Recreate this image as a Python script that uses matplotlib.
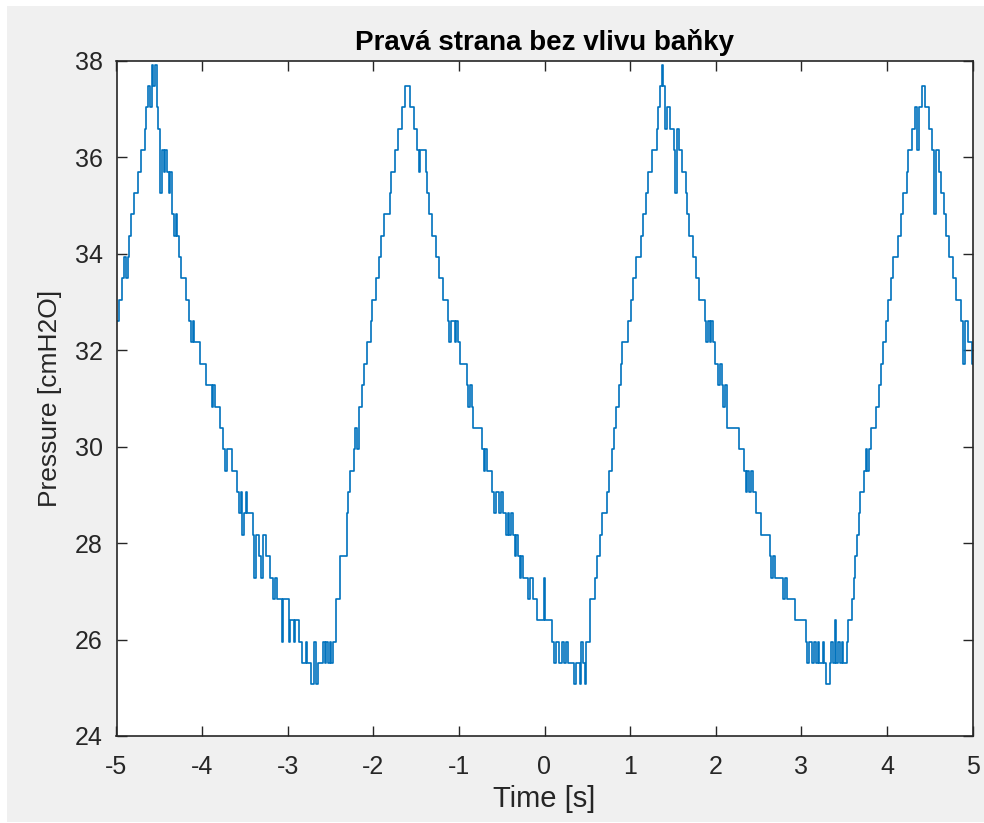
import numpy as np
import matplotlib
matplotlib.use("Agg")
import matplotlib.pyplot as plt
from matplotlib.patches import Rectangle

# sensor output in ADC steps, sampled every 20 ms from t = -5 s
t_start = -5.0
dt = 0.02
p_zero = 25.07      # cmH2O at step 0
p_step = 0.443      # cmH2O per ADC step

adc_counts = [
    17, 17, 18, 18, 19, 20, 19, 20, 21, 22, 22, 23, 23, 24, 24, 25, 25, 26, 27, 28, 27, 29, 28, 29, 27,
    26, 23, 25, 24, 25, 24, 23, 24, 22, 21, 22, 21, 20, 19, 19, 19, 18, 18, 17, 16, 17, 16, 16, 16, 15,
    15, 15, 15, 14, 14, 14, 13, 14, 13, 13, 13, 12, 12, 11, 10, 11, 11, 11, 10, 10, 10, 9, 8, 9, 7,
    8, 9, 8, 8, 8, 7, 5, 7, 7, 6, 5, 7, 7, 6, 6, 5, 5, 4, 5, 4, 4, 4, 2, 4, 4,
    4, 2, 3, 3, 2, 3, 3, 2, 2, 1, 1, 2, 1, 1, 0, 0, 2, 0, 1, 1, 1, 2, 1, 2, 1,
    2, 1, 2, 2, 4, 4, 6, 6, 6, 6, 8, 9, 10, 10, 11, 12, 11, 13, 13, 14, 15, 15, 16, 16, 17,
    18, 18, 19, 19, 20, 21, 21, 22, 22, 22, 23, 24, 24, 25, 25, 26, 26, 27, 27, 28, 28, 28, 27, 27, 26,
    26, 25, 24, 25, 25, 25, 24, 23, 22, 22, 21, 21, 20, 20, 19, 19, 18, 18, 18, 17, 16, 17, 17, 16, 17,
    16, 15, 15, 15, 15, 14, 13, 14, 13, 12, 12, 12, 12, 12, 11, 10, 11, 10, 10, 10, 9, 8, 9, 9, 8,
    9, 8, 8, 7, 8, 7, 8, 7, 6, 7, 6, 5, 6, 5, 5, 5, 4, 5, 5, 4, 4, 3, 3, 3, 3,
    5, 3, 3, 3, 3, 2, 1, 2, 2, 1, 1, 2, 1, 2, 1, 1, 1, 1, 0, 1, 1, 0, 2, 1, 0,
    2, 2, 4, 4, 4, 5, 6, 6, 7, 8, 8, 8, 9, 10, 10, 11, 12, 13, 13, 14, 15, 16, 16, 16, 17,
    17, 18, 19, 19, 20, 20, 20, 21, 22, 22, 23, 24, 24, 25, 25, 25, 26, 27, 28, 29, 28, 26, 27, 27, 26,
    26, 25, 23, 26, 25, 25, 24, 24, 23, 22, 21, 21, 20, 20, 19, 19, 18, 18, 18, 17, 16, 17, 16, 17, 16,
    15, 15, 14, 15, 14, 13, 14, 12, 12, 12, 12, 12, 12, 12, 11, 11, 11, 10, 9, 10, 9, 10, 9, 9, 8,
    8, 8, 7, 7, 7, 7, 7, 6, 5, 6, 5, 5, 5, 5, 5, 4, 5, 4, 4, 4, 4, 4, 3, 3, 3,
    3, 3, 3, 2, 1, 2, 2, 1, 2, 1, 2, 1, 1, 2, 1, 0, 0, 1, 2, 1, 3, 1, 2, 1, 2,
    1, 1, 2, 3, 3, 4, 5, 6, 7, 8, 9, 9, 10, 11, 10, 11, 12, 12, 12, 13, 13, 14, 15, 16, 16,
    17, 18, 18, 19, 20, 20, 20, 21, 21, 22, 23, 23, 24, 25, 25, 26, 26, 27, 25, 27, 27, 28, 28, 27, 27,
    26, 26, 25, 22, 25, 25, 24, 23, 23, 22, 21, 21, 20, 20, 19, 19, 18, 18, 18, 17, 15, 17, 17, 16, 16,
    15,
]

x_ticks = [-5, -4, -3, -2, -1, 0, 1, 2, 3, 4, 5]
y_ticks = [24, 26, 28, 30, 32, 34, 36, 38]

t = t_start + dt * np.arange(len(adc_counts))
pressure = p_zero + p_step * np.array(adc_counts)

plt.rcParams['font.family'] = ['Liberation Sans', 'DejaVu Sans']
ink = '#262626'

fig = plt.figure(figsize=(9.84, 8.23), dpi=100, facecolor='white')
# grey window background
fig.patches.append(Rectangle((7 / 984, 0.0012), 1, 1 - 6 / 823 - 0.0012,
                             transform=fig.transFigure, facecolor='#f0f0f0',
                             edgecolor='none', zorder=-10))

ax = fig.add_axes([116.5 / 984, 1 - 736 / 823, (972.5 - 116.5) / 984, (736 - 60.7) / 823])
ax.plot(t, pressure, color='#0072BD', lw=1.2, drawstyle='steps-mid')

ax.set_xlim(-5, 5)
ax.set_ylim(24, 38)
ax.set_xticks(x_ticks)
ax.set_yticks(y_ticks)
ax.set_xticklabels([str(v) for v in x_ticks])
ax.tick_params(direction='in', length=7, width=1, colors=ink, labelsize=18,
               top=True, right=True)
ax.tick_params(axis='x', pad=14)
ax.tick_params(axis='y', pad=10)
for s in ax.spines.values():
    s.set_color(ink)
    s.set_linewidth(1.2)

ax.set_title('Pravá strana bez vlivu baňky', fontsize=20, fontweight='bold',
             color='black', pad=8)
ax.set_xlabel('Time [s]', fontsize=21, color=ink, labelpad=4)
ax.set_ylabel('Pressure [cmH2O]', fontsize=19, color=ink, labelpad=9)

fig.savefig('out.png', dpi=100, facecolor=fig.get_facecolor())
